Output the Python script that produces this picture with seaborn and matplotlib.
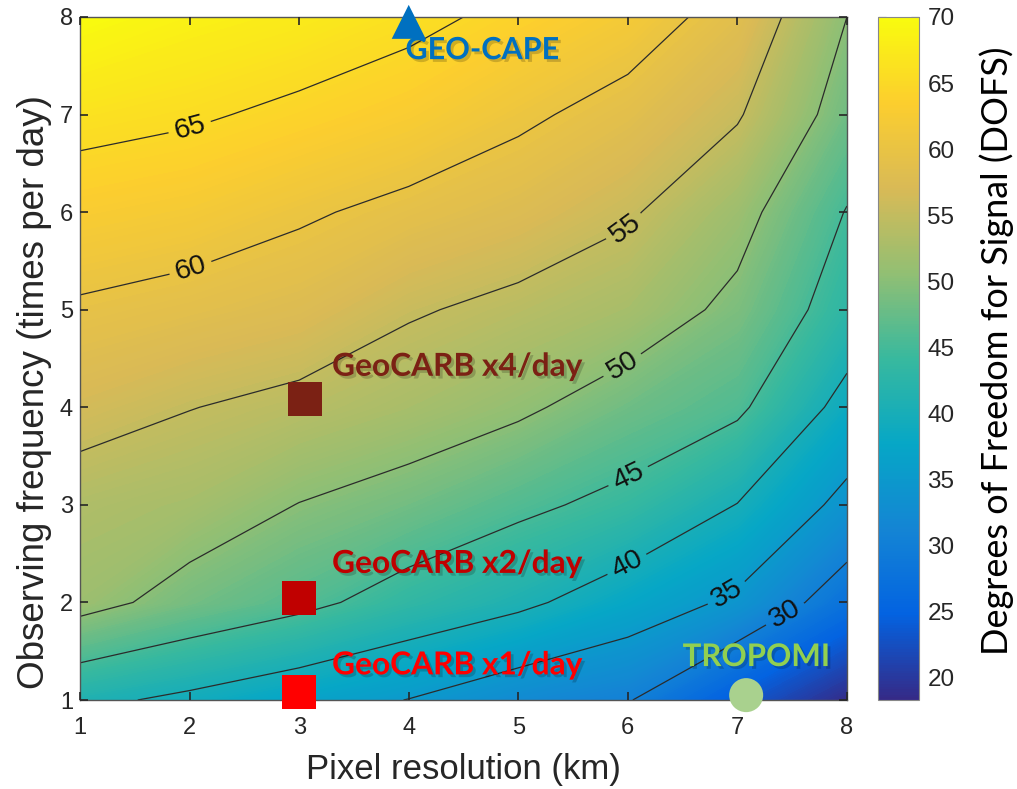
import numpy as np
import pandas as pd
import matplotlib
matplotlib.use("Agg")
import matplotlib.pyplot as plt
import matplotlib.patheffects as pe
from matplotlib.colors import LinearSegmentedColormap, Normalize
import seaborn as sns

# Grid axes
pixel_km = [1, 2, 3, 4, 5, 6, 7, 8]
obs_per_day = [1, 2, 3, 4, 5, 6, 7, 8]

# DOFS, one list per observing frequency (1 ... 8 per day),
# values along pixel resolution 1 ... 8 km
dofs_f1 = [41.0, 39.1, 37.0, 34.9, 32.1, 30.3, 23.7, 18.3]
dofs_f2 = [51.5, 48.4, 46.1, 43.2, 40.9, 37.6, 34.2, 27.4]
dofs_f3 = [53.2, 52.3, 49.9, 48.2, 45.9, 43.8, 39.9, 33.7]
dofs_f4 = [56.5, 55.1, 54.0, 52.5, 50.7, 48.0, 45.8, 38.5]
dofs_f5 = [59.5, 58.6, 57.6, 55.4, 54.0, 52.4, 49.0, 42.8]
dofs_f6 = [62.8, 62.0, 60.5, 59.0, 57.6, 55.5, 51.5, 44.8]
dofs_f7 = [66.3, 65.5, 64.2, 62.8, 60.7, 58.6, 55.4, 48.0]
dofs_f8 = [70.0, 68.5, 67.5, 66.0, 64.0, 62.0, 58.4, 50.0]

line_levels = [30, 35, 40, 45, 50, 55, 60, 65]
cbar_ticks = [20, 25, 30, 35, 40, 45, 50, 55, 60, 65, 70]

# Instruments
inst_names = ["GEO-CAPE", "GeoCARB x4/day", "GeoCARB x2/day", "GeoCARB x1/day", "TROPOMI"]
inst_x = [4.0, 3.05, 3.0, 3.0, 7.08]
inst_y = [7.95, 4.08, 2.05, 1.08, 1.05]

# styling
inst_markers = ["^", "s", "s", "s", "o"]
inst_colors = ["#0070C0", "#7B2114", "#C00000", "#FF0000", "#A9D18E"]
text_colors = ["#0070C0", "#7B2114", "#C00000", "#FF0000", "#92D050"]
text_x = [3.97, 3.30, 3.30, 3.30, 6.50]
text_y = [7.66, 4.42, 2.40, 1.36, 1.44]
text_size = [22, 22.8, 22.8, 22.8, 22.5]
label_pos = [(7.45, 1.85), (6.9, 2.1), (6.0, 2.37), (6.0, 3.3),
             (5.95, 4.43), (5.97, 5.85), (2.0, 5.45), (2.0, 6.87)]

# parula-like colormap
parula_colors = ["#352A87", "#0363E1", "#1485D4", "#06A7C6", "#38B99E",
                 "#92BF73", "#D9BA56", "#FCCE2E", "#F9FB0E"]
parula = LinearSegmentedColormap.from_list("parula", parula_colors)

sns.set_style("ticks", {"xtick.direction": "in", "ytick.direction": "in"})
plt.rcParams['font.family'] = ['Liberation Sans', 'DejaVu Sans']
plt.rcParams['text.color'] = '#262626'

fig = plt.figure(figsize=(10.17, 7.89), dpi=100)
ax = fig.add_axes([0.0787, 0.1128, 0.7541, 0.8657])
cax = fig.add_axes([0.8633, 0.1128, 0.0403, 0.8657])

X, Y = np.meshgrid(pixel_km, obs_per_day)
Z = np.array([dofs_f1, dofs_f2, dofs_f3, dofs_f4, dofs_f5, dofs_f6, dofs_f7, dofs_f8])
vmin, vmax = Z.min(), Z.max()

cf = ax.contourf(X, Y, Z, levels=np.linspace(vmin, vmax, 220), cmap=parula,
                 vmin=vmin, vmax=vmax)
cf.set_edgecolor("face")
cl = ax.contour(X, Y, Z, levels=line_levels, colors="#2b2b2b", linewidths=0.9)
txts = ax.clabel(cl, fmt="%d", fontsize=20.5, manual=label_pos, inline_spacing=6)
for t in txts:
    t.set_color("#111111")

# instruments (markers) via seaborn
sites = pd.DataFrame({"name": inst_names, "x": inst_x, "y": inst_y})
sns.scatterplot(data=sites, x="x", y="y", hue="name", style="name",
                palette=dict(zip(inst_names, inst_colors)),
                markers=dict(zip(inst_names, inst_markers)),
                s=600, linewidth=0, legend=False, clip_on=False, zorder=5, ax=ax)

shadow = [pe.withSimplePatchShadow(offset=(2, -2), shadow_rgbFace="k", alpha=0.18)]
for name, tx, ty, c, fs in zip(inst_names, text_x, text_y, text_colors, text_size):
    ax.text(tx, ty, name, color=c, fontsize=fs, fontweight="bold",
            family=["Lato", "DejaVu Sans"], va="center", ha="left",
            path_effects=shadow, zorder=6)

ax.set_xlim(1, 8)
ax.set_ylim(1, 8)
ax.set_xticks(pixel_km)
ax.set_yticks(obs_per_day)
ax.set_axisbelow(False)
ax.tick_params(labelsize=17, direction="in", top=True, right=True, length=6,
               width=1.2, colors="#262626")
ax.tick_params(axis="x", pad=12)
ax.tick_params(axis="y", pad=5)
for s in ax.spines.values():
    s.set_color("#555555")
    s.set_linewidth(1.0)
ax.set_xlabel("Pixel resolution (km)", fontsize=25, labelpad=10)
ax.set_ylabel("Observing frequency (times per day)", fontsize=26.5)
ax.yaxis.set_label_coords(-0.037, 0.451)

sm = matplotlib.cm.ScalarMappable(norm=Normalize(vmin, vmax), cmap=parula)
cb = fig.colorbar(sm, cax=cax, ticks=cbar_ticks)
cb.outline.set_edgecolor("#888888")
cax.tick_params(labelsize=17.5, direction="in", left=True, right=True, length=6,
                colors="#262626", pad=6)
cb.set_label("Degrees of Freedom for Signal (DOFS)", fontsize=26,
             family=["Lato", "DejaVu Sans"], color="black")
cax.yaxis.set_label_coords(2.47, 0.512)

fig.savefig("out.png", dpi=100)
